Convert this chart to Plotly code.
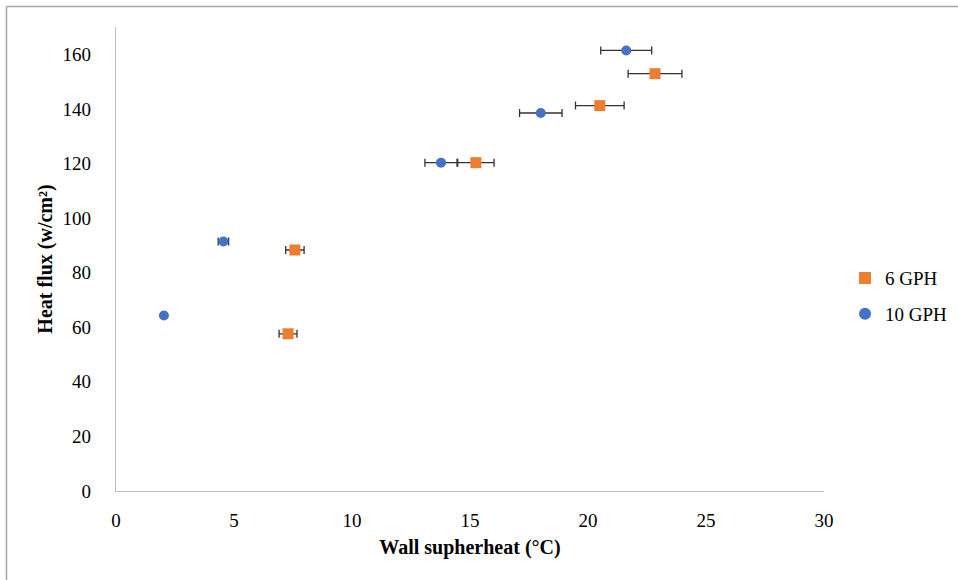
import plotly.graph_objects as go

# Data
x_6gph = [7.29, 7.58, 15.25, 20.5, 22.84]
y_6gph = [57.6, 88.3, 120.3, 141.2, 152.9]
err_6gph = [0.38, 0.39, 0.77, 1.03, 1.14]

x_10gph = [2.03, 4.55, 13.77, 18.0, 21.62]
y_10gph = [64.3, 91.4, 120.3, 138.5, 161.4]
err_10gph = [0.05, 0.22, 0.68, 0.9, 1.08]

x_ticks = [0, 5, 10, 15, 20, 25, 30]
y_ticks = [0, 20, 40, 60, 80, 100, 120, 140, 160]

FONT = "Liberation Serif, Times New Roman, serif"

fig = go.Figure()
fig.add_trace(go.Scatter(
    x=x_6gph, y=y_6gph, mode="markers", name="6 GPH", legendgroup="g6",
    marker=dict(symbol="square", size=11, color="#ED7D31"),
    error_x=dict(type="data", array=err_6gph, visible=True, color="#333333", thickness=1.3, width=4),
))
fig.add_trace(go.Scatter(
    x=x_10gph, y=y_10gph, mode="markers", name="10 GPH", legendgroup="g10",
    marker=dict(symbol="circle", size=10, color="#4472C4"),
    error_x=dict(type="data", array=err_10gph, visible=True, color="#333333", thickness=1.3, width=4),
))

fig.update_layout(
    width=958, height=580,
    margin=dict(l=116, r=134, t=27, b=89, autoexpand=False),
    paper_bgcolor="white", plot_bgcolor="white",
    font=dict(family=FONT, size=18, color="#000000"),
    showlegend=True,
    legend=dict(x=1.0297, y=0.42, xanchor="left", yanchor="middle",
                font=dict(family=FONT, size=19, color="#000000"),
                itemsizing="constant", itemwidth=30, tracegroupgap=8),
    xaxis=dict(
        range=[0, 30], tickvals=x_ticks, showgrid=False, zeroline=False,
        showline=True, linecolor="#bfbfbf", linewidth=1.3, ticks="",
        tickfont=dict(family=FONT, size=19), ticklabelstandoff=12,
        title=dict(text="<b>Wall supherheat (°C)</b>", font=dict(family=FONT, size=20), standoff=10),
    ),
    yaxis=dict(
        range=[0, 170], tickvals=y_ticks, showgrid=False, zeroline=False,
        showline=True, linecolor="#bfbfbf", linewidth=1.3, ticks="",
        tickfont=dict(family=FONT, size=19), ticklabelstandoff=20,
        title=dict(text="<b>Heat flux (w/cm²)</b>", font=dict(family=FONT, size=20), standoff=4),
    ),
    shapes=[
        dict(type="line", xref="paper", yref="paper", x0=-0.1547, x1=1.25, y0=1.0442, y1=1.0442,
             line=dict(color="#a6a6a6", width=1.5)),
        dict(type="line", xref="paper", yref="paper", x0=-0.1547, x1=-0.1547, y0=1.0442, y1=-0.3,
             line=dict(color="#a6a6a6", width=1.5)),
    ],
)

fig.write_html("out.html")
